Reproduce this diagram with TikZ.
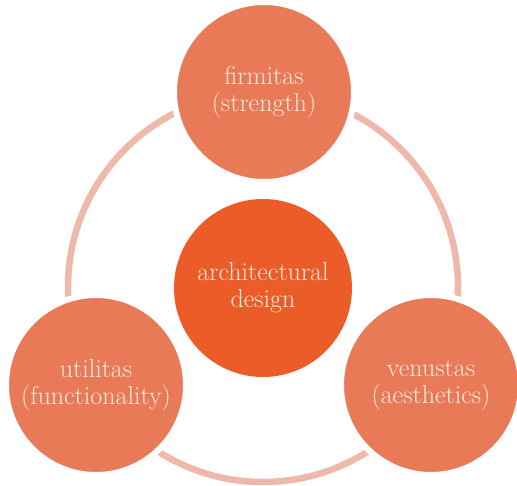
\documentclass[tikz,border=0pt]{standalone}
\usepackage{fontspec}
\definecolor{outerfill}{RGB}{233,122,87}
\definecolor{centerfill}{RGB}{235,92,40}
\definecolor{ringcol}{RGB}{238,185,170}
\definecolor{textcol}{RGB}{250,234,222}
\tikzset{
  ringstyle/.style={circle, draw=ringcol, line width=6.5pt, minimum size=390pt, inner sep=0pt, outer sep=0pt},
  outerbub/.style={circle, fill=outerfill, draw=white, line width=6pt, minimum size=180pt, inner sep=0pt,
    text=textcol, align=center, font=\fontsize{26}{27}\selectfont},
  centerbub/.style={circle, fill=centerfill, minimum size=178pt, inner sep=0pt,
    text=textcol, align=center, font=\fontsize{26}{27}\selectfont}
}
\begin{document}
\begin{tikzpicture}[x=1pt,y=-1pt]
\useasboundingbox (0,0) rectangle (517,485);
\fill[white] (0,0) rectangle (517,485);
\node[ringstyle] (ring) at (263,287) {};
\node[centerbub] (design) at (263,288) {architectural\\design};
\node[outerbub] (firm) at (264,92) {firmitas\\(strength)};
\node[outerbub] (util) at (96,385) {utilitas\\(functionality)};
\node[outerbub] (venu) at (431,385) {venustas\\(aesthetics)};
\end{tikzpicture}
\end{document}
